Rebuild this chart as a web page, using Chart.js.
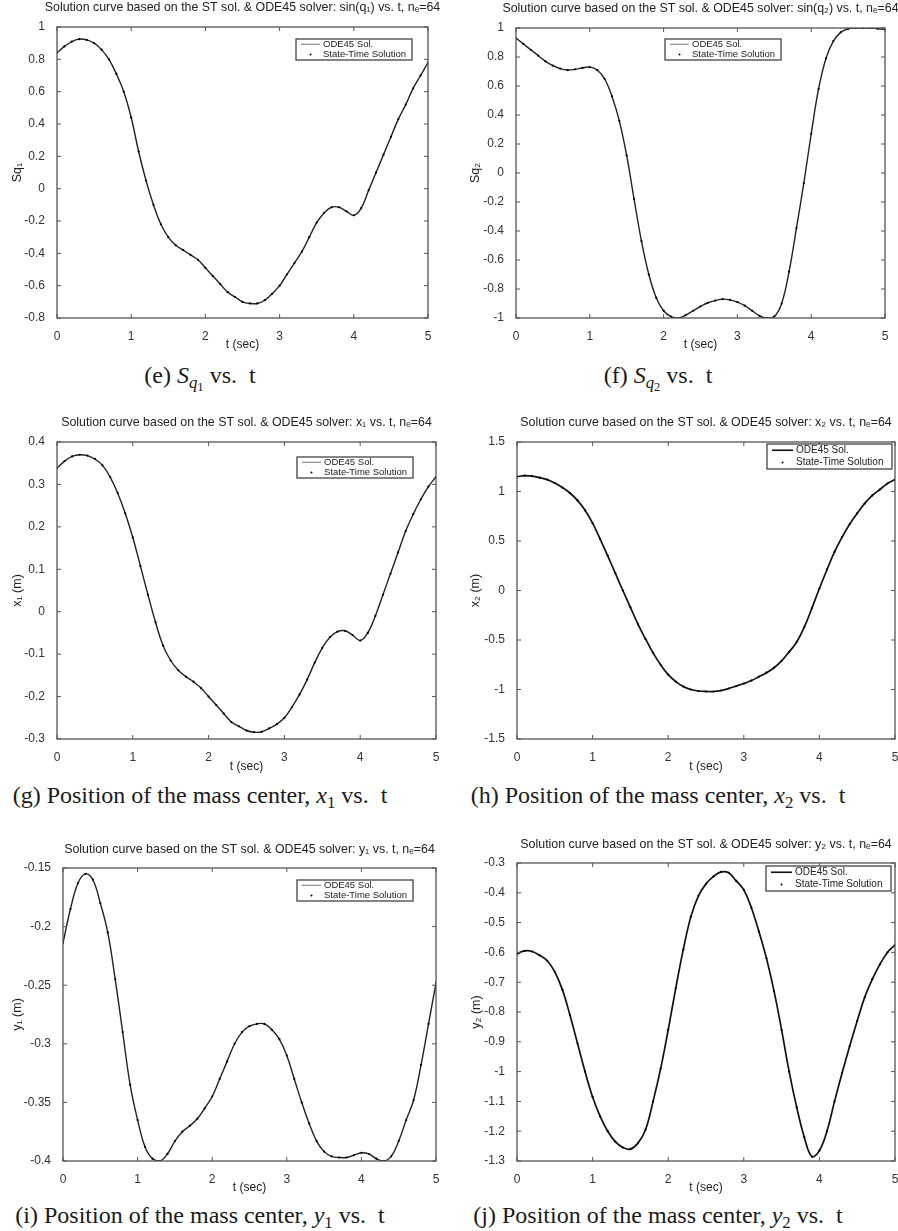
<!DOCTYPE html>
<html><head><meta charset="utf-8">
<script src="https://cdn.jsdelivr.net/npm/chart.js@4.4.1/dist/chart.umd.min.js"></script>
<style>
html,body{margin:0;padding:0;overflow:hidden;background:#fff;width:898px;height:1231px;position:relative;}
canvas{position:absolute;}
.cap{position:absolute;width:460px;text-align:center;font-family:"Liberation Serif","DejaVu Serif",serif;font-size:24px;color:#1a1a1a;line-height:28px;white-space:nowrap;}
.cap sub{font-size:0.7em;vertical-align:-0.3em;line-height:0;}
.cap sub sub{font-size:0.75em;vertical-align:-0.25em;}
</style></head><body>
<canvas id="cE"></canvas><canvas id="cF"></canvas>
<canvas id="cG"></canvas><canvas id="cH"></canvas>
<canvas id="cI"></canvas><canvas id="cJ"></canvas>
<div class="cap" style="left:-30px;top:361px">(e) <i>S</i><sub><i>q</i><sub>1</sub></sub> vs.&nbsp; t</div>
<div class="cap" style="left:428px;top:361px">(f) <i>S</i><sub><i>q</i><sub>2</sub></sub> vs.&nbsp; t</div>
<div class="cap" style="left:-30px;top:781px">(g) Position of the mass center, <i>x</i><sub>1</sub> vs.&nbsp; t</div>
<div class="cap" style="left:428px;top:781px">(h) Position of the mass center, <i>x</i><sub>2</sub> vs.&nbsp; t</div>
<div class="cap" style="left:-30px;top:1201px">(i) Position of the mass center, <i>y</i><sub>1</sub> vs.&nbsp; t</div>
<div class="cap" style="left:428px;top:1201px">(j) Position of the mass center, <i>y</i><sub>2</sub> vs.&nbsp; t</div>
<script>
// ---- data (time in seconds) ----
const tSec = [0,0.1,0.2,0.3,0.4,0.5,0.6,0.7,0.8,0.9,1.0,1.1,1.2,1.3,1.4,1.5,1.6,1.7,1.8,1.9,2.0,
  2.1,2.2,2.3,2.4,2.5,2.6,2.7,2.8,2.9,3.0,3.1,3.2,3.3,3.4,3.5,3.6,3.7,3.8,3.9,4.0,
  4.1,4.2,4.3,4.4,4.5,4.6,4.7,4.8,4.9,5.0];

const sinQ1 = [0.84,0.88,0.91,0.925,0.92,0.90,0.86,0.80,0.71,0.60,0.44,0.23,0.05,-0.10,-0.22,-0.30,-0.35,-0.38,-0.41,-0.44,-0.49,
  -0.54,-0.59,-0.64,-0.67,-0.70,-0.71,-0.71,-0.69,-0.65,-0.60,-0.53,-0.46,-0.39,-0.30,-0.21,-0.15,-0.115,-0.115,-0.14,-0.165,
  -0.12,-0.01,0.10,0.21,0.32,0.43,0.52,0.62,0.70,0.78];

const sinQ2 = [0.93,0.89,0.85,0.81,0.77,0.74,0.72,0.71,0.715,0.725,0.73,0.71,0.65,0.53,0.36,0.12,-0.18,-0.47,-0.70,-0.86,-0.95,
  -0.99,-1.0,-0.98,-0.95,-0.92,-0.895,-0.88,-0.87,-0.875,-0.89,-0.915,-0.95,-0.985,-1.0,-0.99,-0.90,-0.68,-0.38,-0.07,0.27,
  0.58,0.79,0.91,0.97,0.995,1.0,1.0,1.0,0.995,0.99];

const posX1 = [0.338,0.355,0.366,0.37,0.368,0.36,0.345,0.318,0.28,0.232,0.175,0.108,0.04,-0.025,-0.08,-0.115,-0.138,-0.153,-0.165,-0.18,-0.20,
  -0.22,-0.24,-0.26,-0.27,-0.28,-0.284,-0.283,-0.275,-0.265,-0.25,-0.225,-0.195,-0.16,-0.12,-0.085,-0.06,-0.047,-0.045,-0.055,-0.068,
  -0.05,-0.01,0.04,0.09,0.14,0.19,0.23,0.265,0.295,0.318];

const posX2 = [1.15,1.16,1.155,1.14,1.12,1.085,1.04,0.985,0.91,0.81,0.68,0.52,0.35,0.175,0.0,-0.17,-0.34,-0.49,-0.63,-0.75,-0.85,
  -0.92,-0.97,-1.0,-1.015,-1.02,-1.02,-1.01,-0.99,-0.965,-0.94,-0.91,-0.87,-0.83,-0.78,-0.71,-0.62,-0.52,-0.37,-0.18,0.02,
  0.21,0.39,0.54,0.67,0.78,0.88,0.96,1.02,1.08,1.12];

const posY1 = [-0.214,-0.185,-0.163,-0.155,-0.16,-0.18,-0.205,-0.245,-0.29,-0.335,-0.365,-0.388,-0.398,-0.40,-0.394,-0.383,-0.375,-0.37,-0.364,-0.355,-0.345,
  -0.33,-0.315,-0.30,-0.29,-0.285,-0.283,-0.283,-0.288,-0.296,-0.31,-0.33,-0.35,-0.368,-0.383,-0.392,-0.396,-0.397,-0.397,-0.395,-0.393,
  -0.394,-0.398,-0.40,-0.396,-0.383,-0.365,-0.348,-0.318,-0.283,-0.248];

const posY2 = [-0.605,-0.595,-0.597,-0.61,-0.628,-0.665,-0.725,-0.81,-0.905,-1.0,-1.085,-1.15,-1.2,-1.235,-1.255,-1.26,-1.24,-1.195,-1.1,-0.99,-0.86,
  -0.72,-0.59,-0.48,-0.41,-0.37,-0.345,-0.33,-0.333,-0.36,-0.39,-0.45,-0.53,-0.62,-0.73,-0.86,-1.0,-1.12,-1.22,-1.285,-1.265,
  -1.2,-1.1,-1.005,-0.915,-0.83,-0.75,-0.69,-0.64,-0.6,-0.575];

// ---- tick labels ----
const timeTicks = [0,1,2,3,4,5];
const ticksSq1 = [-0.8,-0.6,-0.4,-0.2,0,0.2,0.4,0.6,0.8,1];
const ticksSq2 = [-1,-0.8,-0.6,-0.4,-0.2,0,0.2,0.4,0.6,0.8,1];
const ticksX1 = [-0.3,-0.2,-0.1,0,0.1,0.2,0.3,0.4];
const ticksX2 = [-1.5,-1,-0.5,0,0.5,1,1.5];
const ticksY1 = [-0.4,-0.35,-0.3,-0.25,-0.2,-0.15];
const ticksY2 = [-1.3,-1.2,-1.1,-1,-0.9,-0.8,-0.7,-0.6,-0.5,-0.4,-0.3];

const seriesNames = ['ODE45 Sol.', 'State-Time Solution'];
const SANS = '"Liberation Sans","Arial","DejaVu Sans",sans-serif';
const FS = 12;

// ---- plugin: MATLAB-style box, inward ticks, in-axes legend, title ----
const matlabAxes = {
  id: 'matlabAxes',
  afterDraw(chart, args, o) {
    const ctx = chart.ctx, a = chart.chartArea;
    const xs = chart.scales.x, ys = chart.scales.y;
    ctx.save();
    ctx.strokeStyle = '#555'; ctx.lineWidth = 1.3;
    ctx.strokeRect(a.left, a.top, a.right - a.left, a.bottom - a.top);
    ctx.lineWidth = 1; ctx.beginPath();
    xs.ticks.forEach(t => {
      const p = xs.getPixelForValue(t.value);
      ctx.moveTo(p, a.bottom); ctx.lineTo(p, a.bottom - 4);
      ctx.moveTo(p, a.top); ctx.lineTo(p, a.top + 4);
    });
    ys.ticks.forEach(t => {
      const p = ys.getPixelForValue(t.value);
      ctx.moveTo(a.left, p); ctx.lineTo(a.left + 4, p);
      ctx.moveTo(a.right, p); ctx.lineTo(a.right - 4, p);
    });
    ctx.stroke();
    ctx.fillStyle = '#222';
    ctx.font = '12.4px ' + SANS;
    ctx.textAlign = 'center'; ctx.textBaseline = 'middle';
    ctx.fillText(o.title, (a.left + a.right) / 2, o.titleY);
    const L = o.legend;
    ctx.fillStyle = '#fff';
    ctx.fillRect(L.x, L.y, L.w, L.h);
    ctx.strokeStyle = '#444'; ctx.lineWidth = 1.3;
    ctx.strokeRect(L.x, L.y, L.w, L.h);
    const r1 = L.y + L.h * 0.25, r2 = L.y + L.h * 0.74;
    const ds0 = chart.data.datasets[0];
    ctx.strokeStyle = L.lc; ctx.lineWidth = L.lw;
    ctx.beginPath(); ctx.moveTo(L.x + 5, r1); ctx.lineTo(L.x + L.sw, r1); ctx.stroke();
    ctx.fillStyle = '#000';
    ctx.beginPath(); ctx.arc(L.x + (5 + L.sw) / 2, r2, 1, 0, Math.PI * 2); ctx.fill();
    ctx.fillStyle = '#222';
    ctx.font = L.fs + 'px ' + SANS;
    ctx.textAlign = 'left';
    ctx.fillText(ds0.label, L.x + L.sw + 3, r1);
    ctx.fillText(chart.data.datasets[1].label, L.x + L.sw + 3, r2);
    ctx.restore();
  }
};

function makePlot(id, P) {
  const cv = document.getElementById(id);
  cv.width = P.canvas.w; cv.height = P.canvas.h;
  cv.style.left = P.canvas.x + 'px'; cv.style.top = P.canvas.y + 'px';
  cv.style.width = P.canvas.w + 'px'; cv.style.height = P.canvas.h + 'px';
  const cx = P.canvas.x, cy = P.canvas.y;
  const pts = tSec.map((t, i) => ({x: t, y: P.values[i]}));
  const font = {family: SANS, size: FS};
  const half = FS * 1.2 / 2;
  new Chart(cv, {
    type: 'scatter',
    data: {datasets: [
      {label: seriesNames[0], data: pts, showLine: true, pointRadius: 0,
       borderColor: P.lineColor, borderWidth: P.lineWidth, tension: 0.4, order: 2},
      {label: seriesNames[1], data: pts, showLine: false, pointRadius: 1.1,
       pointBackgroundColor: '#000', pointBorderWidth: 0, order: 1}
    ]},
    options: {
      responsive: false, animation: false, devicePixelRatio: 1,
      layout: {padding: {left: 0, top: P.area.T - cy, right: cx + P.canvas.w - P.area.R, bottom: 0}},
      plugins: {
        legend: {display: false}, tooltip: {enabled: false}, title: {display: false},
        matlabAxes: {
          title: P.title, titleY: P.titleY - cy,
          legend: Object.assign({}, P.legend, {x: P.legend.x - cx, y: P.legend.y - cy})
        }
      },
      scales: {
        x: {
          type: 'linear', min: 0, max: 5,
          afterBuildTicks: s => { s.ticks = timeTicks.map(v => ({value: v})); },
          afterFit: s => { s.height = cy + P.canvas.h - P.area.B; },
          grid: {display: false}, border: {display: false},
          ticks: {font, color: '#333', padding: 3, maxRotation: 0, autoSkip: false, callback: v => String(v)},
          title: {display: true, text: 't (sec)', font, color: '#222',
                  padding: {top: 0, bottom: (cy + P.canvas.h) - P.xTitleY - half}}
        },
        y: {
          type: 'linear', min: P.yTicks[0], max: P.yTicks[P.yTicks.length - 1],
          afterBuildTicks: s => { s.ticks = P.yTicks.map(v => ({value: v})); },
          afterFit: s => { s.width = P.area.L - cx; },
          grid: {display: false}, border: {display: false},
          ticks: {font, color: '#333', padding: 4, autoSkip: false, callback: v => String(v)},
          title: {display: true, text: P.yLabel, font: {family: SANS, size: 12.5}, color: '#222',
                  padding: {top: P.yTitleX - cx - 7.5, bottom: 0}}
        }
      }
    },
    plugins: [matlabAxes]
  });
}

const lineC = '#222';
const legLight = {lc: '#777', lw: 1, sw: 24, fs: 9.5, w: 116, h: 21};
const legDark = {lc: '#111', lw: 1.6, sw: 26, fs: 10, w: 125, h: 25};
makePlot('cE', {canvas: {x: 0, y: 0, w: 449, h: 360}, area: {L: 57, T: 27, R: 428, B: 318},
  values: sinQ1, yTicks: ticksSq1, yLabel: 'Sq\u2081', titleY: 8, yTitleX: 18, xTitleY: 345,
  title: 'Solution curve based on the ST sol. & ODE45 solver: sin(q\u2081) vs. t, n\u2091=64',
  legend: Object.assign({x: 296, y: 39}, legLight), lineColor: lineC, lineWidth: 1.4});
makePlot('cF', {canvas: {x: 449, y: 0, w: 500, h: 360}, area: {L: 516, T: 28, R: 885, B: 318},
  values: sinQ2, yTicks: ticksSq2, yLabel: 'Sq\u2082', titleY: 9, yTitleX: 476, xTitleY: 345,
  title: 'Solution curve based on the ST sol. & ODE45 solver: sin(q\u2082) vs. t, n\u2091=64',
  legend: Object.assign({x: 665, y: 39}, legLight), lineColor: lineC, lineWidth: 1.4});
makePlot('cG', {canvas: {x: 0, y: 400, w: 449, h: 380}, area: {L: 57, T: 442, R: 436, B: 739},
  values: posX1, yTicks: ticksX1, yLabel: 'x\u2081 (m)', titleY: 423, yTitleX: 18, xTitleY: 767,
  title: 'Solution curve based on the ST sol. & ODE45 solver: x\u2081 vs. t, n\u2091=64',
  legend: Object.assign({x: 297, y: 457}, legLight), lineColor: lineC, lineWidth: 1.4});
makePlot('cH', {canvas: {x: 449, y: 400, w: 500, h: 380}, area: {L: 517, T: 442, R: 895, B: 739},
  values: posX2, yTicks: ticksX2, yLabel: 'x\u2082 (m)', titleY: 423, yTitleX: 476, xTitleY: 767,
  title: 'Solution curve based on the ST sol. & ODE45 solver: x\u2082 vs. t, n\u2091=64',
  legend: Object.assign({x: 767, y: 444}, legDark), lineColor: '#111', lineWidth: 1.7});
makePlot('cI', {canvas: {x: 0, y: 820, w: 449, h: 380}, area: {L: 63, T: 868, R: 436, B: 1161},
  values: posY1, yTicks: ticksY1, yLabel: 'y\u2081 (m)', titleY: 850, yTitleX: 18, xTitleY: 1188,
  title: 'Solution curve based on the ST sol. & ODE45 solver: y\u2081 vs. t, n\u2091=64',
  legend: Object.assign({x: 297, y: 880}, legLight), lineColor: lineC, lineWidth: 1.4});
makePlot('cJ', {canvas: {x: 449, y: 820, w: 500, h: 380}, area: {L: 517, T: 863, R: 895, B: 1161},
  values: posY2, yTicks: ticksY2, yLabel: 'y\u2082 (m)', titleY: 845, yTitleX: 477, xTitleY: 1188,
  title: 'Solution curve based on the ST sol. & ODE45 solver: y\u2082 vs. t, n\u2091=64',
  legend: Object.assign({x: 766, y: 866}, legDark), lineColor: '#111', lineWidth: 1.7});
</script>
</body></html>
